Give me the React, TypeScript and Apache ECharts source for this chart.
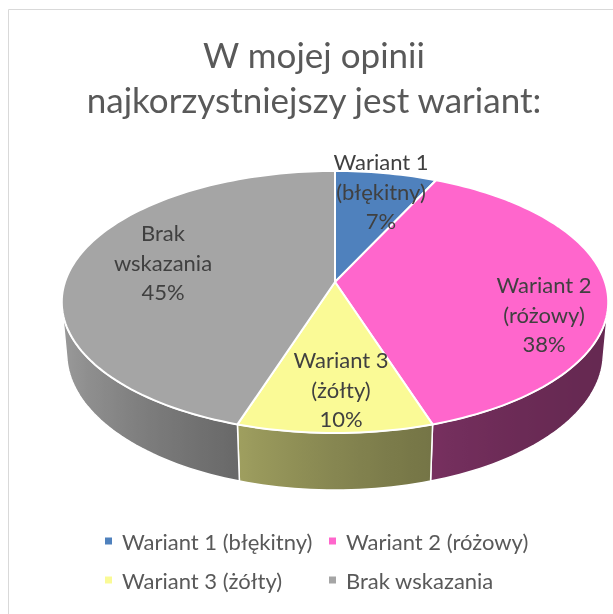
import React, { useEffect, useRef } from 'react';
import * as echarts from 'echarts';

// ---- data ----
const CATEGORIES = ['Wariant 1 (błękitny)', 'Wariant 2 (różowy)', 'Wariant 3 (żółty)', 'Brak wskazania'];
const LABEL_LINES = [['Wariant 1', '(błękitny)'], ['Wariant 2', '(różowy)'], ['Wariant 3', '(żółty)'], ['Brak', 'wskazania']];
const VALUES = [7, 38, 10, 45];
const TITLE_LINES = ['W mojej opinii', 'najkorzystniejszy jest wariant:'];

// ---- style / layout ----
const COLORS = ['#4F81BD', '#FF66CC', '#FAFA96', '#A5A5A5'];
const FONT = 'Lato, "Noto Sans", sans-serif';
const CX = 335;
const CY = 282;
const FOCAL = 1560;
const DIST = 5.777;
const TILT = (28.3 * Math.PI) / 180;
const THICK = 0.219;
const LABEL_POS = [
  [381, 191],
  [544, 314],
  [341, 389],
  [163, 262],
];
const LEGEND_POS = [
  [105, 528],
  [329, 528],
  [105, 567],
  [329, 567],
];

const SA = Math.sin(TILT);
const CA = Math.cos(TILT);
const PHI_C = (Math.acos(-1 / (DIST * CA)) * 180) / Math.PI;
const PHI_MIN = PHI_C;
const PHI_MAX = 360 - PHI_C;

function project(phiDeg: number, r: number, y: number): [number, number] {
  const p = (phiDeg * Math.PI) / 180;
  const X = r * Math.sin(p);
  const Z = -r * Math.cos(p);
  const D = DIST - (Z * CA + y * SA);
  return [CX + (FOCAL * X) / D, CY + (FOCAL * (Z * SA - y * CA)) / D];
}

function hexToRgb(h: string): number[] {
  const n = parseInt(h.slice(1), 16);
  return [(n >> 16) & 255, (n >> 8) & 255, n & 255];
}

function shade(hex: string, phiDeg: number): string {
  const s = Math.sin((phiDeg * Math.PI) / 180);
  const u = Math.pow((1 - s) / 2, 2);
  const f = 0.4 + 0.55 * u;
  const [r, g, b] = hexToRgb(hex);
  return `rgb(${Math.round(r * f)},${Math.round(g * f)},${Math.round(b * f)})`;
}

export default function App() {
  const ref = useRef<HTMLDivElement>(null);

  useEffect(() => {
    if (!ref.current) return;
    const chart = echarts.init(ref.current, undefined, { renderer: 'svg' });
    const total = VALUES.reduce((a, b) => a + b, 0);

    const series = CATEGORIES.map((name, i) => ({
      type: 'custom',
      name,
      coordinateSystem: 'none',
      silent: true,
      itemStyle: { color: COLORS[i] },
      data: [[VALUES[i]]],
      renderItem: (params: any, api: any) => {
        const idx = params.seriesIndex;
        const before = VALUES.slice(0, idx).reduce((a, b) => a + b, 0);
        const start = (before / total) * 360;
        const end = start + (api.value(0) / total) * 360;
        const color = COLORS[idx];
        const children: any[] = [];

        // side wall (only the part facing the viewer)
        const vs = Math.max(start, PHI_MIN);
        const ve = Math.min(end, PHI_MAX);
        if (ve > vs) {
          const steps = Math.max(8, Math.ceil((ve - vs) / 1.5));
          const top: number[][] = [];
          const bot: number[][] = [];
          for (let k = 0; k <= steps; k++) {
            const phi = vs + ((ve - vs) * k) / steps;
            top.push(project(phi, 1, 0));
            bot.push(project(phi, 1, -THICK));
          }
          const pts = top.concat(bot.reverse());
          const xs = pts.map((p) => p[0]);
          const minX = Math.min(...xs);
          const maxX = Math.max(...xs);
          const stops: any[] = [];
          for (let k = 0; k <= steps; k++) {
            const phi = vs + ((ve - vs) * k) / steps;
            const px = project(phi, 1, 0)[0];
            stops.push({ offset: Math.min(1, Math.max(0, (px - minX) / (maxX - minX || 1))), color: shade(color, phi) });
          }
          stops.sort((a, b) => a.offset - b.offset);
          children.push({
            type: 'polygon',
            z2: 1,
            shape: { points: pts },
            style: {
              fill: new echarts.graphic.LinearGradient(0, 0, 1, 0, stops),
              stroke: '#ffffff',
              lineWidth: 1.5,
              lineJoin: 'round',
            },
          });
        }

        // top face
        const arc: number[][] = [[CX, CY]];
        const steps = Math.max(6, Math.ceil((end - start) / 1.5));
        for (let k = 0; k <= steps; k++) {
          arc.push(project(start + ((end - start) * k) / steps, 1, 0));
        }
        children.push({
          type: 'polygon',
          z2: 10,
          shape: { points: arc },
          style: { fill: color, stroke: '#ffffff', lineWidth: 2, lineJoin: 'round' },
        });

        // data label
        const pct = Math.round((api.value(0) / total) * 100) + '%';
        children.push({
          type: 'text',
          z2: 20,
          style: {
            text: LABEL_LINES[idx].concat([pct]).join('\n'),
            x: LABEL_POS[idx][0],
            y: LABEL_POS[idx][1],
            align: 'center',
            verticalAlign: 'middle',
            fontSize: 22,
            lineHeight: 29.5,
            fontFamily: FONT,
            fill: '#404040',
          },
        });
        return { type: 'group', children };
      },
    }));

    chart.setOption({
      animation: false,
      graphic: [
        {
          type: 'rect',
          shape: { x: 8.5, y: 9.5, width: 800, height: 800 },
          style: { fill: 'none', stroke: '#d9d9d9', lineWidth: 1 },
          silent: true,
        },
        {
          type: 'text',
          style: {
            text: TITLE_LINES.join('\n'),
            x: 314,
            y: 76,
            align: 'center',
            verticalAlign: 'middle',
            fontSize: 35,
            lineHeight: 45,
            fontFamily: FONT,
            fill: '#595959',
          },
          silent: true,
        },
      ],
      legend: CATEGORIES.map((name, i) => ({
        data: [name],
        left: LEGEND_POS[i][0],
        top: LEGEND_POS[i][1],
        padding: 0,
        icon: 'rect',
        itemWidth: 7,
        itemHeight: 7,
        selectedMode: false,
        textStyle: { fontSize: 22, lineHeight: 26, color: '#595959', fontFamily: FONT, padding: [0, 0, 0, 5] },
      })),
      series,
    });

    return () => chart.dispose();
  }, []);

  return <div ref={ref} style={{ position: 'fixed', left: 0, top: 0, width: 613, height: 614 }} />;
}
